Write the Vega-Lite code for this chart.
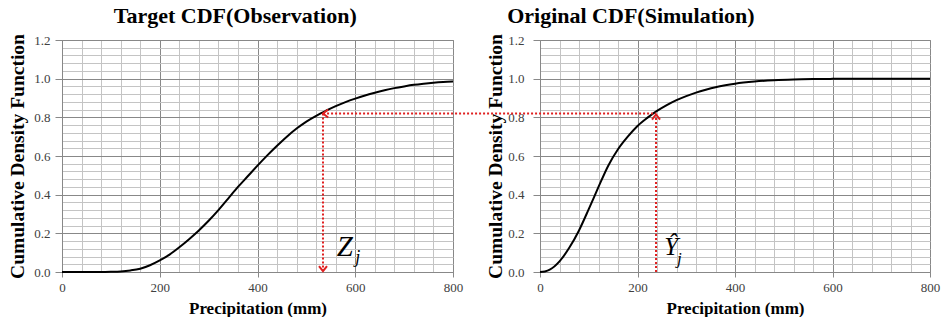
{
  "$schema": "https://vega.github.io/schema/vega-lite/v6.json",
  "padding": {"left": 7, "top": 4, "right": 0, "bottom": 0},
  "background": "white",
  "config": {
    "font": "Liberation Serif",
    "view": {"stroke": "#8c8c8c"}
  },
  "datasets": {
    "obs": [
      {"v": 0, "p": 0}, {"v": 40, "p": 0}, {"v": 80, "p": 0}, {"v": 100, "p": 0.001},
      {"v": 120, "p": 0.003}, {"v": 140, "p": 0.008}, {"v": 160, "p": 0.017}, {"v": 180, "p": 0.035},
      {"v": 200, "p": 0.06}, {"v": 220, "p": 0.09}, {"v": 240, "p": 0.128}, {"v": 260, "p": 0.17},
      {"v": 280, "p": 0.215}, {"v": 300, "p": 0.265}, {"v": 320, "p": 0.32}, {"v": 340, "p": 0.38},
      {"v": 360, "p": 0.44}, {"v": 380, "p": 0.495}, {"v": 400, "p": 0.55}, {"v": 420, "p": 0.603},
      {"v": 440, "p": 0.653}, {"v": 460, "p": 0.7}, {"v": 480, "p": 0.742}, {"v": 500, "p": 0.778},
      {"v": 520, "p": 0.808}, {"v": 540, "p": 0.834}, {"v": 560, "p": 0.858}, {"v": 580, "p": 0.879},
      {"v": 600, "p": 0.897}, {"v": 620, "p": 0.913}, {"v": 640, "p": 0.927}, {"v": 660, "p": 0.94},
      {"v": 680, "p": 0.951}, {"v": 700, "p": 0.96}, {"v": 720, "p": 0.968}, {"v": 740, "p": 0.974},
      {"v": 760, "p": 0.979}, {"v": 780, "p": 0.983}, {"v": 800, "p": 0.986}
    ],
    "sim": [
      {"v": 0, "p": 0}, {"v": 10, "p": 0.003}, {"v": 20, "p": 0.012}, {"v": 40, "p": 0.055},
      {"v": 60, "p": 0.125}, {"v": 80, "p": 0.215}, {"v": 100, "p": 0.325}, {"v": 120, "p": 0.44},
      {"v": 140, "p": 0.55}, {"v": 160, "p": 0.635}, {"v": 180, "p": 0.7}, {"v": 200, "p": 0.755},
      {"v": 220, "p": 0.797}, {"v": 240, "p": 0.833}, {"v": 260, "p": 0.863}, {"v": 280, "p": 0.889},
      {"v": 300, "p": 0.91}, {"v": 320, "p": 0.928}, {"v": 340, "p": 0.943}, {"v": 360, "p": 0.956},
      {"v": 380, "p": 0.966}, {"v": 400, "p": 0.974}, {"v": 440, "p": 0.985}, {"v": 480, "p": 0.992},
      {"v": 520, "p": 0.996}, {"v": 560, "p": 0.998}, {"v": 600, "p": 0.999}, {"v": 700, "p": 1.0},
      {"v": 800, "p": 1.0}
    ]
  },
  "bounds": "flush",
  "spacing": 87,
  "hconcat": [
    {
      "title": {"text": "Target CDF(Observation)", "font": "Liberation Serif", "fontSize": 22, "fontWeight": "bold", "color": "black", "frame": "bounds", "anchor": "middle", "offset": 6},
      "width": 391,
      "height": 232,
      "resolve": {"axis": {"x": "independent", "y": "independent"}},
      "layer": [
        {
          "data": {"name": "obs"},
          "mark": {"type": "line", "color": "black", "strokeWidth": 2, "interpolate": "monotone"},
          "encoding": {
            "x": {"field": "v", "type": "quantitative", "scale": {"domain": [0, 800], "nice": false},
              "axis": {"orient": "top", "values": [40, 80, 120, 160, 240, 280, 320, 360, 440, 480, 520, 560, 640, 680, 720, 760], "grid": true, "gridColor": "#c4c4c4", "gridWidth": 1, "labels": false, "ticks": false, "domain": false, "title": null}},
            "y": {"field": "p", "type": "quantitative", "scale": {"domain": [0, 1.2], "nice": false},
              "axis": {"orient": "right", "values": [0.04, 0.08, 0.12, 0.16, 0.24, 0.28, 0.32, 0.36, 0.44, 0.48, 0.52, 0.56, 0.64, 0.68, 0.72, 0.76, 0.84, 0.88, 0.92, 0.96, 1.04, 1.08, 1.12, 1.16], "grid": true, "gridColor": "#c4c4c4", "gridWidth": 1, "labels": false, "ticks": false, "domain": false, "title": null}}
          }
        },
        {
          "data": {"values": [{"v": 534, "p": 0.82, "p2": 0.006}]},
          "mark": {"type": "rule", "color": "#e02020", "strokeWidth": 2, "strokeDash": [2, 2]},
          "encoding": {
            "x": {"field": "v", "type": "quantitative", "scale": {"domain": [0, 800], "nice": false},
              "axis": {"orient": "bottom", "values": [0, 200, 400, 600, 800], "format": "d", "grid": true, "gridColor": "#888888", "gridWidth": 1, "domainColor": "#888888", "tickColor": "#888888", "tickSize": 5, "labelFont": "Liberation Serif", "labelFontSize": 13, "labelColor": "#404040", "labelPadding": 4, "labelFlush": false, "title": "Precipitation (mm)", "titleFont": "Liberation Serif", "titleFontSize": 17, "titleFontWeight": "bold", "titleColor": "black", "titlePadding": 6}},
            "y": {"field": "p", "type": "quantitative", "scale": {"domain": [0, 1.2], "nice": false},
              "axis": {"orient": "left", "values": [0, 0.2, 0.4, 0.6, 0.8, 1.0, 1.2], "format": ".1f", "grid": true, "gridColor": "#888888", "gridWidth": 1, "domainColor": "#888888", "tickColor": "#888888", "tickSize": 7, "labelFont": "Liberation Serif", "labelFontSize": 13, "labelColor": "#404040", "labelPadding": 5, "title": "Cumulative Density Function", "titleFont": "Liberation Serif", "titleFontSize": 19.5, "titleFontWeight": "bold", "titleColor": "black", "titlePadding": 6}},
            "y2": {"field": "p2"}
          }
        },
        {
          "data": {"values": [{"v": 534, "p": 0.82, "dir": "left"}, {"v": 534, "p": 0.004, "dir": "down"}]},
          "mark": {"type": "point", "filled": false, "stroke": "#e02020", "strokeWidth": 2, "size": 64, "opacity": 1},
          "encoding": {
            "x": {"field": "v", "type": "quantitative", "scale": {"domain": [0, 800], "nice": false}, "axis": null},
            "y": {"field": "p", "type": "quantitative", "scale": {"domain": [0, 1.2], "nice": false}, "axis": null},
            "shape": {"field": "dir", "type": "nominal", "scale": {"domain": ["left", "down", "up"], "range": ["M1.3,-1L0,0L1.3,1", "M-1,-1.3L0,0L1,-1.3", "M-1,1.3L0,0L1,1.3"]}, "legend": null}
          }
        },
        {
          "data": {"values": [{"v": 562, "p": 0.081, "t": "Z"}]},
          "mark": {"type": "text", "font": "Liberation Serif", "fontStyle": "italic", "fontSize": 29, "align": "left", "baseline": "alphabetic", "color": "black"},
          "encoding": {
            "x": {"field": "v", "type": "quantitative", "scale": {"domain": [0, 800], "nice": false}, "axis": null},
            "y": {"field": "p", "type": "quantitative", "scale": {"domain": [0, 1.2], "nice": false}, "axis": null},
            "text": {"field": "t"}
          }
        },
        {
          "data": {"values": [{"v": 600, "p": 0.045, "t": "j"}]},
          "mark": {"type": "text", "font": "Liberation Serif", "fontStyle": "italic", "fontSize": 18, "align": "left", "baseline": "alphabetic", "color": "black"},
          "encoding": {
            "x": {"field": "v", "type": "quantitative", "scale": {"domain": [0, 800], "nice": false}, "axis": null},
            "y": {"field": "p", "type": "quantitative", "scale": {"domain": [0, 1.2], "nice": false}, "axis": null},
            "text": {"field": "t"}
          }
        }
      ]
    },
    {
      "title": {"text": "Original CDF(Simulation)", "font": "Liberation Serif", "fontSize": 22, "fontWeight": "bold", "color": "black", "frame": "bounds", "anchor": "middle", "offset": 6},
      "width": 390,
      "height": 232,
      "resolve": {"axis": {"x": "independent", "y": "independent"}},
      "layer": [
        {
          "data": {"name": "sim"},
          "mark": {"type": "line", "color": "black", "strokeWidth": 2, "interpolate": "monotone"},
          "encoding": {
            "x": {"field": "v", "type": "quantitative", "scale": {"domain": [0, 800], "nice": false},
              "axis": {"orient": "top", "values": [40, 80, 120, 160, 240, 280, 320, 360, 440, 480, 520, 560, 640, 680, 720, 760], "grid": true, "gridColor": "#c4c4c4", "gridWidth": 1, "labels": false, "ticks": false, "domain": false, "title": null}},
            "y": {"field": "p", "type": "quantitative", "scale": {"domain": [0, 1.2], "nice": false},
              "axis": {"orient": "right", "values": [0.04, 0.08, 0.12, 0.16, 0.24, 0.28, 0.32, 0.36, 0.44, 0.48, 0.52, 0.56, 0.64, 0.68, 0.72, 0.76, 0.84, 0.88, 0.92, 0.96, 1.04, 1.08, 1.12, 1.16], "grid": true, "gridColor": "#c4c4c4", "gridWidth": 1, "labels": false, "ticks": false, "domain": false, "title": null}}
          }
        },
        {
          "data": {"values": [{"v": 238, "p": 0.0, "p2": 0.815}]},
          "mark": {"type": "rule", "color": "#e02020", "strokeWidth": 2, "strokeDash": [2, 2]},
          "encoding": {
            "x": {"field": "v", "type": "quantitative", "scale": {"domain": [0, 800], "nice": false},
              "axis": {"orient": "bottom", "values": [0, 200, 400, 600, 800], "format": "d", "grid": true, "gridColor": "#888888", "gridWidth": 1, "domainColor": "#888888", "tickColor": "#888888", "tickSize": 5, "labelFont": "Liberation Serif", "labelFontSize": 13, "labelColor": "#404040", "labelPadding": 4, "labelFlush": false, "title": "Precipitation (mm)", "titleFont": "Liberation Serif", "titleFontSize": 17, "titleFontWeight": "bold", "titleColor": "black", "titlePadding": 6}},
            "y": {"field": "p", "type": "quantitative", "scale": {"domain": [0, 1.2], "nice": false},
              "axis": {"orient": "left", "values": [0, 0.2, 0.4, 0.6, 0.8, 1.0, 1.2], "format": ".1f", "grid": true, "gridColor": "#888888", "gridWidth": 1, "domainColor": "#888888", "tickColor": "#888888", "tickSize": 7, "labelFont": "Liberation Serif", "labelFontSize": 13, "labelColor": "#404040", "labelPadding": 9, "title": "Cumulative Density Function", "titleFont": "Liberation Serif", "titleFontSize": 19.5, "titleFontWeight": "bold", "titleColor": "black", "titlePadding": 2}},
            "y2": {"field": "p2"}
          }
        },
        {
          "data": {"values": [{"v": -445, "v2": 238, "p": 0.82}]},
          "mark": {"type": "rule", "color": "#e02020", "strokeWidth": 2, "strokeDash": [2, 2]},
          "encoding": {
            "x": {"field": "v", "type": "quantitative", "scale": {"domain": [0, 800], "nice": false}, "axis": null},
            "x2": {"field": "v2"},
            "y": {"field": "p", "type": "quantitative", "scale": {"domain": [0, 1.2], "nice": false}, "axis": null}
          }
        },
        {
          "data": {"values": [{"v": 238, "p": 0.815, "dir": "up"}]},
          "mark": {"type": "point", "filled": false, "stroke": "#e02020", "strokeWidth": 2, "size": 64, "opacity": 1},
          "encoding": {
            "x": {"field": "v", "type": "quantitative", "scale": {"domain": [0, 800], "nice": false}, "axis": null},
            "y": {"field": "p", "type": "quantitative", "scale": {"domain": [0, 1.2], "nice": false}, "axis": null},
            "shape": {"field": "dir", "type": "nominal", "scale": {"domain": ["left", "down", "up"], "range": ["M1.3,-1L0,0L1.3,1", "M-1,-1.3L0,0L1,-1.3", "M-1,1.3L0,0L1,1.3"]}, "legend": null}
          }
        },
        {
          "data": {"values": [{"v": 255, "p": 0.09, "t": "Ŷ"}]},
          "mark": {"type": "text", "font": "Liberation Serif", "fontStyle": "italic", "fontSize": 25, "align": "left", "baseline": "alphabetic", "color": "black"},
          "encoding": {
            "x": {"field": "v", "type": "quantitative", "scale": {"domain": [0, 800], "nice": false}, "axis": null},
            "y": {"field": "p", "type": "quantitative", "scale": {"domain": [0, 1.2], "nice": false}, "axis": null},
            "text": {"field": "t"}
          }
        },
        {
          "data": {"values": [{"v": 281, "p": 0.04, "t": "j"}]},
          "mark": {"type": "text", "font": "Liberation Serif", "fontStyle": "italic", "fontSize": 17, "align": "left", "baseline": "alphabetic", "color": "black"},
          "encoding": {
            "x": {"field": "v", "type": "quantitative", "scale": {"domain": [0, 800], "nice": false}, "axis": null},
            "y": {"field": "p", "type": "quantitative", "scale": {"domain": [0, 1.2], "nice": false}, "axis": null},
            "text": {"field": "t"}
          }
        }
      ]
    }
  ]
}
